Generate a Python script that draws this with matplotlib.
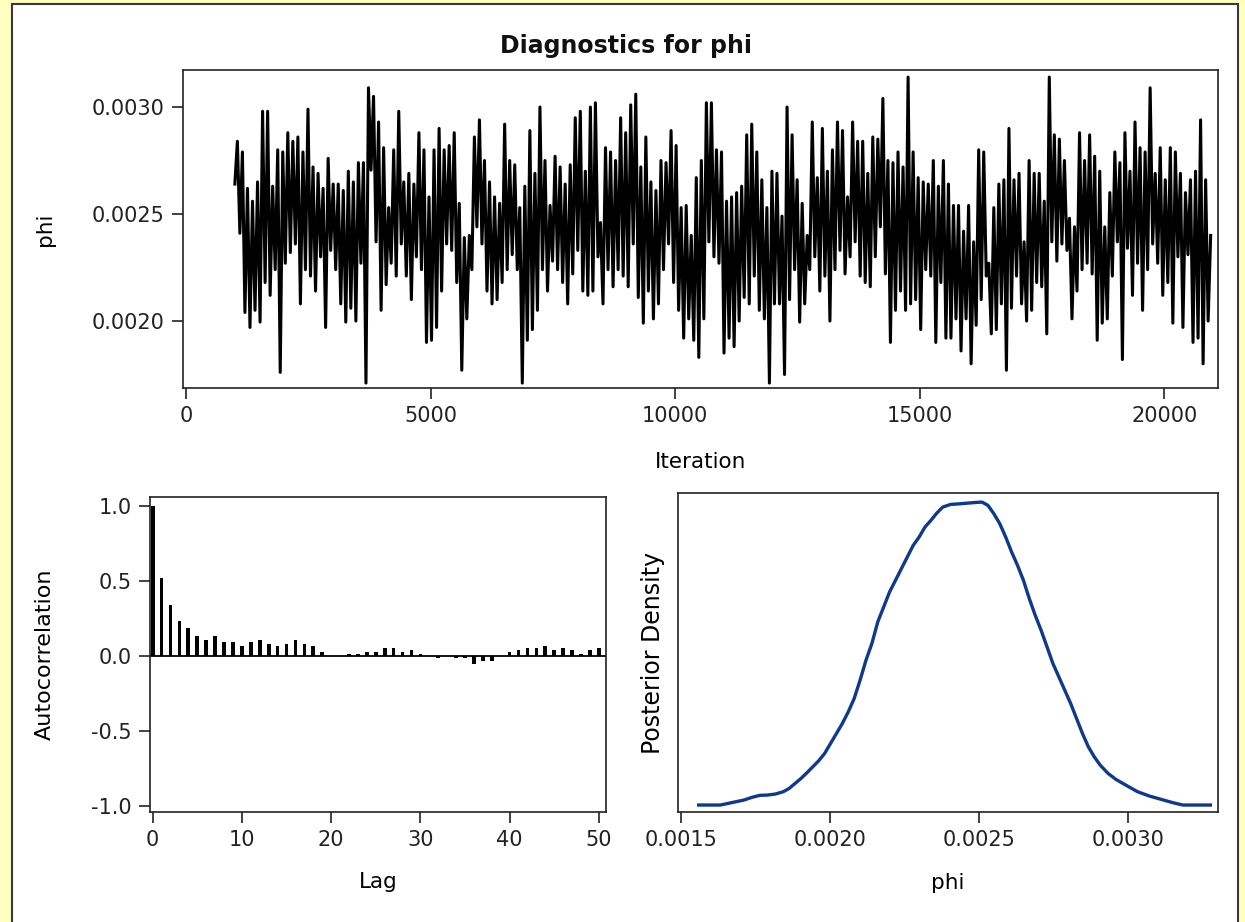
# MCMC diagnostics panel for phi: trace, autocorrelation, posterior density

import numpy as np
import matplotlib
matplotlib.use("Agg")
import matplotlib.pyplot as plt
from matplotlib.patches import Rectangle
from matplotlib.ticker import FormatStrFormatter

# trace values (x 1e-4), read as alternating highs and lows along the chain
trace_start = 26.4
trace_hi = [
    28.4, 27.9, 26.2, 25.6, 26.5, 29.8, 29.8, 26.3, 28.0, 27.9, 28.8, 28.4, 28.6, 27.9,
    29.9, 27.2, 26.9, 26.2, 27.6, 26.4, 26.4, 26.1, 27.0, 26.5, 27.4, 27.4, 30.9, 30.5,
    29.3, 28.1, 25.3, 28.0, 29.8, 26.5, 26.9, 26.4, 28.8, 28.0, 25.8, 28.0,
    29.0, 28.0, 28.2, 28.8, 25.5, 23.9, 24.0, 28.6, 29.4, 27.5, 26.5, 25.8, 25.5, 29.2,
    27.5, 27.3, 25.3, 26.3, 28.9, 26.9, 30.0, 27.5, 25.4, 27.7, 27.2, 26.4, 27.3, 29.5,
    29.8, 27.0, 30.0, 30.2, 24.6, 28.1, 27.9, 27.5, 29.5, 28.8, 30.1, 30.6, 27.2, 28.6,
    26.5, 26.1, 27.5, 27.4, 28.9, 28.2, 25.3, 25.4,
    24.0, 26.7, 27.5, 30.2, 30.2, 28.0, 27.9, 25.6, 25.8, 26.0, 26.3, 28.7, 29.2, 27.9,
    26.6, 25.3, 27.0, 26.9, 24.9, 30.0, 28.7, 26.6, 25.5, 24.0, 29.3, 26.7, 29.0, 27.0,
    28.0, 29.3, 28.9, 25.8, 29.3, 28.4, 28.4, 26.9, 28.6, 28.5, 30.4, 27.5, 27.4, 27.9,
    27.2, 31.4, 27.9, 26.7, 26.5, 26.4, 27.5, 26.3, 27.5,
    26.4, 25.4, 25.4, 24.2, 25.4, 23.7, 28.0, 27.9, 22.7, 25.3, 26.4, 26.6, 29.0, 26.6,
    26.9, 23.7, 27.5, 26.9, 26.9, 25.6, 31.4, 28.7, 28.5, 27.5, 24.8, 24.4, 28.8, 27.5,
    28.7, 27.7, 27.0, 24.4, 26.0, 27.9, 27.4, 28.8, 27.0, 29.3, 28.1, 27.9, 30.9, 26.9,
    28.1, 26.6, 28.1, 27.9, 26.9, 26.0, 26.6, 27.0, 29.4, 26.6,
]
trace_lo = [
    24.1, 20.4, 19.7, 20.5, 19.95, 21.8, 21.2, 22.4, 17.6, 22.7, 23.2, 23.6, 20.8, 22.4,
    22.1, 21.4, 23.0, 19.7, 23.3, 22.4, 20.8, 19.95, 20.6, 20.0, 22.7, 17.1, 27.05, 23.7,
    20.5, 21.7, 22.7, 22.1, 23.6, 22.1, 21.0, 23.0, 22.4, 19.0, 19.1, 19.7,
    21.4, 23.6, 23.3, 21.8, 17.7, 20.1, 22.4, 24.4, 23.6, 21.4, 20.8, 21.0, 21.8, 22.4,
    23.1, 22.4, 17.1, 19.1, 19.6, 20.5, 22.4, 21.4, 22.8, 22.4, 21.8, 20.8, 22.2, 23.3,
    21.4, 21.2, 21.4, 23.0, 20.8, 22.4, 21.6, 22.4, 22.1, 21.6, 23.6, 21.1, 19.9, 21.4,
    20.1, 20.8, 22.4, 23.6, 21.8, 20.5, 19.2, 20.1,
    19.1, 18.3, 20.1, 23.7, 23.0, 22.7, 18.5, 19.2, 18.8, 20.0, 21.1, 20.8, 22.1, 20.5,
    20.1, 17.1, 20.8, 20.8, 17.5, 21.0, 22.4, 19.95, 20.8, 22.4, 23.0, 21.4, 22.1, 20.0,
    22.4, 23.3, 22.2, 23.0, 23.7, 22.1, 21.8, 21.6, 23.0, 24.4, 22.2, 19.0, 20.5, 21.4,
    20.5, 20.8, 21.0, 19.6, 22.4, 22.1, 19.0, 21.8, 19.2,
    19.2, 20.1, 18.6, 20.1, 18.0, 19.8, 21.0, 22.1, 19.4, 19.6, 20.8, 17.7, 20.6, 22.1,
    20.8, 20.0, 20.5, 21.8, 21.6, 19.4, 23.7, 22.8, 23.6, 23.3, 20.1, 21.4, 22.4, 22.7,
    22.2, 19.1, 19.9, 20.1, 22.1, 23.7, 18.2, 23.4, 21.2, 22.7, 20.5, 22.4, 23.6, 22.7,
    21.2, 21.8, 19.9, 23.0, 19.7, 23.1, 19.0, 19.2, 18.0, 20.0,
]
trace_end = 24.0
iter_first, iter_last = 1000, 20950

# autocorrelation by lag
lags = list(range(51))
acf = [
    1.0, 0.52, 0.34, 0.236, 0.187, 0.135, 0.108, 0.135, 0.094, 0.094,
    0.067, 0.094, 0.108, 0.081, 0.067, 0.081, 0.108, 0.081, 0.067, 0.03,
    0.0, 0.0, 0.013, 0.013, 0.027, 0.027, 0.054, 0.054, 0.027, 0.04,
    0.013, 0.0, -0.012, 0.0, -0.012, -0.012, -0.05, -0.032, -0.032, 0.0,
    0.027, 0.04, 0.054, 0.054, 0.067, 0.04, 0.054, 0.04, 0.013, 0.04,
    0.054,
]

# posterior density curve (relative height)
dens_phi = [
    0.0015594, 0.0016319, 0.0016583, 0.0016847, 0.0017111, 0.0017375, 0.0017639,
    0.0017902, 0.0018166, 0.0018430, 0.0018628, 0.0018826, 0.0019024, 0.0019222,
    0.0019420, 0.0019617, 0.0019815, 0.0020013, 0.0020211, 0.0020409, 0.0020607,
    0.0020805, 0.0021003, 0.0021201, 0.0021398, 0.0021596, 0.0021794, 0.0021992,
    0.0022190, 0.0022388, 0.0022586, 0.0022784, 0.0022982, 0.0023179, 0.0023377,
    0.0023575, 0.0023773, 0.0024037, 0.0024367, 0.0024631, 0.0024894, 0.0025092,
    0.0025290, 0.0025488, 0.0025686, 0.0025884, 0.0026082, 0.0026280, 0.0026478,
    0.0026675, 0.0026873, 0.0027071, 0.0027269, 0.0027467, 0.0027665, 0.0027863,
    0.0028061, 0.0028259, 0.0028456, 0.0028654, 0.0028852, 0.0029050, 0.0029314,
    0.0029578, 0.0029908, 0.0030303, 0.0030699, 0.0031095, 0.0031491, 0.0031821,
    0.0032745,
]
dens_val = [
    0.0, 0.0, 0.0055, 0.011, 0.0165, 0.0253, 0.0319,
    0.033, 0.0363, 0.044, 0.055, 0.0714, 0.0879, 0.1066,
    0.1264, 0.1462, 0.1703, 0.2033, 0.2363, 0.2692, 0.3077,
    0.3516, 0.4121, 0.4780, 0.5330, 0.6044, 0.6538, 0.7033,
    0.7418, 0.7802, 0.8187, 0.8571, 0.8846, 0.9176, 0.9396,
    0.9637, 0.9835, 0.9923, 0.9945, 0.9967, 0.9989, 1.0,
    0.989, 0.9615, 0.9286, 0.8846, 0.8352, 0.7912, 0.7418,
    0.6813, 0.6264, 0.5769, 0.5220, 0.4670, 0.4231, 0.3791,
    0.3352, 0.2857, 0.2363, 0.1923, 0.1593, 0.1319, 0.1044,
    0.0846, 0.0659, 0.044, 0.0297, 0.0187, 0.0077, 0.0,
    0.0,
]

W, H = 1245, 922
plt.rcParams['font.family'] = ['DejaVu Sans']
plt.rcParams['font.size'] = 15

fig = plt.figure(figsize=(W / 100, H / 100), dpi=100)
fig.patch.set_facecolor('#FFFFC0')
frame = Rectangle((11.5 / W, -0.01), 1226 / W, (H - 4) / H + 0.01,
                  transform=fig.transFigure, facecolor='white',
                  edgecolor='#3a3a3a', linewidth=1.5, zorder=-10)
fig.add_artist(frame)


def box(l, t, r, b):
    return [l / W, (H - b) / H, (r - l) / W, (b - t) / H]


def style(ax):
    for s in ax.spines.values():
        s.set_linewidth(1.2)
        s.set_color('#222222')
    ax.tick_params(axis='both', which='both', direction='out', length=8, width=1.2,
                   labelsize=15, colors='#222222', pad=5, top=False, right=False)


# title is centred on the whole graph, not on the trace panel
fig.text(626 / W, 1 - 46 / H, 'Diagnostics for phi', fontsize=17, fontweight='bold',
         ha='center', va='center', color='#111111')

# trace
ax1 = fig.add_axes(box(183, 70, 1218, 388))
vals = [trace_start]
for h, l in zip(trace_hi, trace_lo):
    vals += [h, l]
vals.append(trace_end)
vals = np.array(vals) * 1e-4
iters = np.linspace(iter_first, iter_last, len(vals))
ax1.plot(iters, vals, color='black', linewidth=2.2)
ax1.set_xlim(-60, 21100)
ax1.set_ylim(0.001687, 0.003173)
ax1.set_xticks([0, 5000, 10000, 15000, 20000])
ax1.set_yticks([0.0020, 0.0025, 0.0030])
ax1.yaxis.set_major_formatter(FormatStrFormatter('%.4f'))
style(ax1)
ax1.set_ylabel('phi', fontsize=15.5)
ax1.yaxis.set_label_coords(-0.124, 0.5)
ax1.set_xlabel('Iteration', fontsize=15.5)
ax1.xaxis.set_label_coords(0.5, -0.2)

# autocorrelation
ax2 = fig.add_axes(box(150, 497, 606, 812))
ax2.bar(lags, acf, width=0.42, color='black', edgecolor='black', linewidth=0)
ax2.axhline(0, color='black', linewidth=1.3)
ax2.set_xlim(-0.3, 50.8)
ax2.set_ylim(-1.04, 1.06)
ax2.set_xticks([0, 10, 20, 30, 40, 50])
ax2.set_yticks([-1.0, -0.5, 0.0, 0.5, 1.0])
ax2.yaxis.set_major_formatter(FormatStrFormatter('%.1f'))
style(ax2)
ax2.set_ylabel('Autocorrelation', fontsize=16)
ax2.yaxis.set_label_coords(-0.208, 0.5)
ax2.set_xlabel('Lag', fontsize=15.5)
ax2.xaxis.set_label_coords(0.5, -0.19)

# posterior density
ax3 = fig.add_axes(box(678, 493, 1218, 812))
ax3.plot(dens_phi, dens_val, color='#0F3A8A', linewidth=2.4)
ax3.set_xlim(0.00149, 0.0033)
ax3.set_ylim(-0.023, 1.03)
ax3.set_xticks([0.0015, 0.0020, 0.0025, 0.0030])
ax3.xaxis.set_major_formatter(FormatStrFormatter('%.4f'))
ax3.set_yticks([])
style(ax3)
ax3.set_ylabel('Posterior Density', fontsize=17)
ax3.yaxis.set_label_coords(-0.024, 0.5)
ax3.set_xlabel('phi', fontsize=15.5)
ax3.xaxis.set_label_coords(0.5, -0.19)

fig.savefig('out.png', dpi=100, facecolor=fig.get_facecolor())
